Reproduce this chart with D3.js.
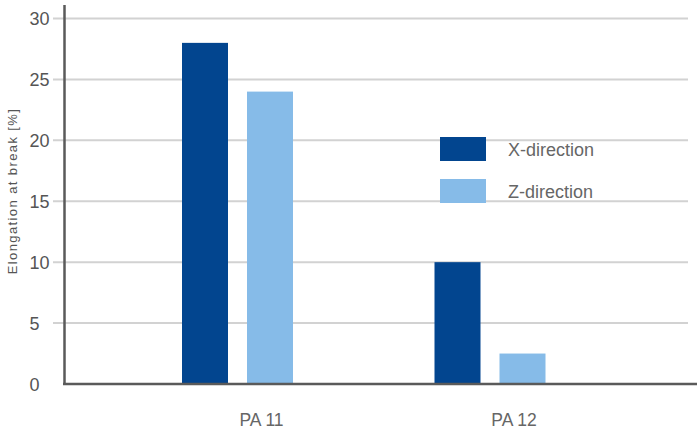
<!DOCTYPE html>
<html>
<head>
<meta charset="utf-8">
<script src="https://cdn.jsdelivr.net/npm/d3@7"></script>
<style>
  body { margin: 0; background: #fff; }
  text { font-family: "Liberation Sans", Arial, sans-serif; }
</style>
</head>
<body>
<svg></svg>
<script>
var categories = ["PA 11", "PA 12"];
var seriesNames = ["X-direction", "Z-direction"];
var xDirection = [28, 10];
var zDirection = [24, 2.5];
var yTicks = [0, 5, 10, 15, 20, 25, 30];
var colors = ["#02458F", "#86BBE8"];

draw();

function draw(){
  var width = 697;
  var height = 430;

  var svg = d3.select("svg")
              .attr("width", width)
              .attr("height", height);

  var y = d3.scaleLinear()
            .domain([0, 30])
            .range([384, 18.5]);

  var x = d3.scalePoint()
            .domain(categories)
            .range([237.5, 490]);

  var inner = d3.scaleBand()
                .domain(seriesNames)
                .range([-55.5, 55.5])
                .paddingInner(19 / 65);

  // gridlines
  svg.append("g")
     .selectAll("line")
     .data(yTicks.filter(function(d){ return d > 0; }))
     .enter()
     .append("line")
     .attr("x1", 53)
     .attr("x2", 688)
     .attr("y1", function(d){ return y(d); })
     .attr("y2", function(d){ return y(d); })
     .attr("stroke", "#d2d2d2")
     .attr("stroke-width", 2);

  // tick labels
  svg.append("g")
     .selectAll("text")
     .data(yTicks)
     .enter()
     .append("text")
     .attr("x", 29.5)
     .attr("y", function(d){ return y(d) + 6.5; })
     .attr("font-size", 18)
     .attr("fill", "#555")
     .text(function(d){ return d; });

  // bars
  var rows = categories.map(function(c, i){
    return [{cat: c, s: seriesNames[0], v: xDirection[i]},
            {cat: c, s: seriesNames[1], v: zDirection[i]}];
  });

  svg.append("g")
     .selectAll("g")
     .data(rows)
     .enter()
     .append("g")
     .attr("transform", function(d){ return "translate(" + x(d[0].cat) + ",0)"; })
     .selectAll("rect")
     .data(function(d){ return d; })
     .enter()
     .append("rect")
     .attr("x", function(d){ return inner(d.s); })
     .attr("width", inner.bandwidth())
     .attr("y", function(d){ return y(d.v); })
     .attr("height", function(d){ return y(0) - y(d.v); })
     .attr("fill", function(d, i){ return colors[i]; });

  // axes lines
  svg.append("line")
     .attr("x1", 64.5).attr("x2", 64.5)
     .attr("y1", 5).attr("y2", 385)
     .attr("stroke", "#5a5a5a")
     .attr("stroke-width", 2.5);

  svg.append("line")
     .attr("x1", 63).attr("x2", 697)
     .attr("y1", 384).attr("y2", 384)
     .attr("stroke", "#5a5a5a")
     .attr("stroke-width", 2.5);

  // category labels
  svg.append("g")
     .selectAll("text")
     .data(categories)
     .enter()
     .append("text")
     .attr("x", function(d){ return x(d) + 24; })
     .attr("y", 426)
     .attr("text-anchor", "middle")
     .attr("font-size", 17.5)
     .attr("fill", "#666")
     .text(function(d){ return d; });

  // y title
  svg.append("text")
     .attr("transform", "translate(17,191) rotate(-90)")
     .attr("text-anchor", "middle")
     .attr("font-size", 13)
     .attr("letter-spacing", 1.4)
     .attr("fill", "#555")
     .text("Elongation at break [%]");

  // legend
  var legend = svg.append("g")
                  .selectAll("g")
                  .data(seriesNames)
                  .enter()
                  .append("g")
                  .attr("transform", function(d, i){ return "translate(440," + (137 + i * 42) + ")"; });

  legend.append("rect")
        .attr("width", 46)
        .attr("height", 24)
        .attr("fill", function(d, i){ return colors[i]; });

  legend.append("text")
        .attr("x", 68)
        .attr("y", 18.5)
        .attr("font-size", 18)
        .attr("fill", "#666")
        .text(function(d){ return d; });
}
</script>
</body>
</html>
